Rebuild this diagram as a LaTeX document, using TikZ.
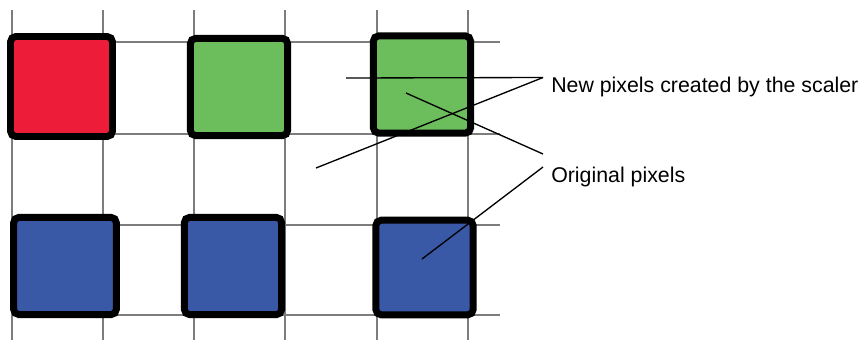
\documentclass[tikz,border=0pt]{standalone}
\usepackage{fontspec}
\setmainfont{Liberation Sans}
\usetikzlibrary{calc}
\definecolor{pixred}{RGB}{237,29,58}
\definecolor{pixgreen}{RGB}{108,190,92}
\definecolor{pixblue}{RGB}{57,88,166}
\definecolor{gridgray}{RGB}{125,125,125}
\tikzset{
	gridline/.style={draw=gridgray, line width=2.2pt},
	pixel/.style={draw=black, line width=5.2pt, rounded corners=4pt, minimum size=73pt, inner sep=0pt},
	callout/.style={draw=black, line width=1pt},
	label/.style={anchor=base west, inner sep=0pt, font=\fontsize{16}{19}\selectfont}
}
\begin{document}
\begin{tikzpicture}[x=0.75pt, y=-0.75pt]
		\useasboundingbox (0,0) rectangle (864,340);
		\foreach \x in {12,103,194,285,377,468}
			\draw[gridline] (\x, 10) -- (\x, 340);
		\foreach \y in {42,134,225,315}
			\draw[gridline] (12, \y) -- (500, \y);

		\node[pixel, fill=pixred, minimum width=76.5pt, minimum height=75pt] (red) at (61.5, 86.5) {};
		\node[pixel, fill=pixgreen] (greenA) at (239, 87) {};
		\node[pixel, fill=pixgreen] (greenB) at (422, 84.5) {};
		\node[pixel, fill=pixblue, minimum width=77pt] (blueA) at (65, 266) {};
		\node[pixel, fill=pixblue] (blueB) at (233, 266) {};
		\node[pixel, fill=pixblue, minimum height=71pt] (blueC) at (424.5, 267.5) {};

		\node[label] (newtxt) at (551, 92) {New pixels created by the scaler};
		\node[label] (origtxt) at (551, 182) {Original pixels};

		\coordinate (newtip) at (543, 77.5);
		\coordinate (origtipA) at (543, 154);
		\coordinate (origtipB) at (543, 167);
		\coordinate (gapA) at (346, 78);
		\coordinate (gapB) at (316, 168);
		\coordinate (inG) at ($(greenB) + (-16, 8.5)$);
		\coordinate (inB) at ($(blueC) + (-2.5, -8.5)$);

		\draw[callout] (gapA) -- (newtip);
		\draw[callout] (gapB) -- (newtip);
		\draw[callout] (inG) -- (origtipA);
		\draw[callout] (inB) -- (origtipB);
	\end{tikzpicture}
\end{document}
